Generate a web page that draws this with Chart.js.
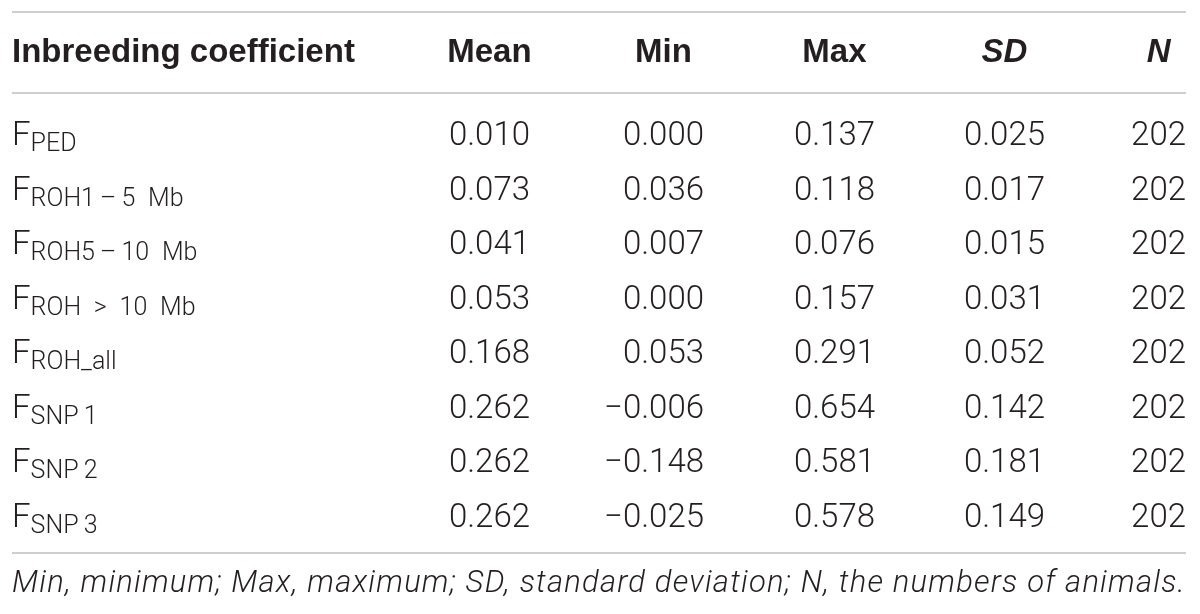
<!DOCTYPE html>
<html>
<head>
<meta charset="utf-8">
<script src="https://cdn.jsdelivr.net/npm/chart.js@4.4.1/dist/chart.umd.min.js"></script>
<style>
  html, body { margin: 0; background: #fff; }
  #wrap { width: 1200px; height: 614px; }
</style>
</head>
<body>
<div id="wrap"><canvas id="tbl"></canvas></div>
<script>
// table data
const rowSubs = ['PED', 'ROH1\u2009\u2013\u20095\u2002Mb', 'ROH5\u2009\u2013\u200910\u2002Mb', 'ROH\u2002>\u200210\u2002Mb',
                 'ROH_all', 'SNP\u20091', 'SNP\u20092', 'SNP\u20093'];
const columns = ['Mean', 'Min', 'Max', 'SD', 'N'];
const meanVals = [0.010, 0.073, 0.041, 0.053, 0.168, 0.262, 0.262, 0.262];
const minVals  = [0.000, 0.036, 0.007, 0.000, 0.053, -0.006, -0.148, -0.025];
const maxVals  = [0.137, 0.118, 0.076, 0.157, 0.291, 0.654, 0.581, 0.578];
const sdVals   = [0.025, 0.017, 0.015, 0.031, 0.052, 0.142, 0.181, 0.149];
const nVals    = [202, 202, 202, 202, 202, 202, 202, 202];
const firstHeader = 'Inbreeding coefficient';
const footnote = 'Min, minimum; Max, maximum; SD, standard deviation; N, the numbers of animals.';

// layout (table units = px inside the chart area)
const TABLE_W = 1174;
const colRight = [518, 692, 863, 1033, 1174];
const italicHead = [false, false, false, true, true];
const HEADER_H = 81, GAP_TOP = 13, GAP_BOTTOM = 11;
const INK = '#231f20', RULE = '#cfcfcf';
const BODY = '300 33px Roboto', SUB = '300 25px Roboto', HEAD = 'bold 33px "Liberation Sans"';
const NOTE = 'italic 300 31px Roboto';

const colValues = [meanVals, minVals, maxVals, sdVals, nVals];
const fmt = (v, c) => c === 4 ? String(v) : (v < 0 ? '\u2212' : '') + Math.abs(v).toFixed(3);

const tablePlugin = {
  id: 'tableText',
  afterDraw(chart) {
    const { ctx, chartArea: a } = chart;
    const yScale = chart.scales.y;
    const ruleTop = a.top - GAP_TOP - HEADER_H;
    const ruleMid = a.top - GAP_TOP;
    const ruleBot = a.bottom + GAP_BOTTOM;
    ctx.save();

    // rules
    ctx.strokeStyle = RULE;
    ctx.lineWidth = 2;
    [ruleTop, ruleMid, ruleBot].forEach(y => {
      ctx.beginPath(); ctx.moveTo(a.left, y); ctx.lineTo(a.right, y); ctx.stroke();
    });

    ctx.fillStyle = INK;
    ctx.textBaseline = 'middle';

    // header
    const headY = (ruleTop + ruleMid) / 2;
    ctx.font = HEAD;
    ctx.textAlign = 'left';
    ctx.fillText(firstHeader, a.left, headY);
    chart.data.datasets.forEach((ds, c) => {
      const pt = chart.getDatasetMeta(c).data[0];
      ctx.font = BODY;
      const w = ctx.measureText(fmt(colValues[c][0], c)).width;
      ctx.font = (italicHead[c] ? 'italic ' : '') + HEAD;
      ctx.textAlign = 'center';
      ctx.fillText(columns[c], pt.x - w / 2, headY);
    });

    // row labels: F with subscript
    ctx.textBaseline = 'alphabetic';
    rowSubs.forEach((sub, r) => {
      const base = yScale.getPixelForValue(r) + 12;
      ctx.textAlign = 'left';
      ctx.font = BODY;
      ctx.fillText('F', a.left, base);
      const fw = ctx.measureText('F').width;
      ctx.font = SUB;
      ctx.fillText(sub, a.left + fw, base + 6);
    });

    // values
    ctx.font = BODY;
    ctx.textAlign = 'right';
    chart.data.datasets.forEach((ds, c) => {
      chart.getDatasetMeta(c).data.forEach((pt, r) => {
        ctx.fillText(fmt(colValues[c][r], c), pt.x, pt.y + 12);
      });
    });

    // footnote, spread to the table width
    ctx.font = NOTE;
    ctx.textAlign = 'left';
    ctx.textBaseline = 'middle';
    const nw = ctx.measureText(footnote).width;
    if ('letterSpacing' in ctx) {
      ctx.letterSpacing = Math.max(0, (a.right - a.left - nw) / footnote.length) + 'px';
    }
    ctx.fillText(footnote, a.left, ruleBot + 31);
    ctx.restore();
  }
};

new Chart(document.getElementById('tbl'), {
  type: 'scatter',
  data: {
    datasets: colValues.map((vals, c) => ({
      label: columns[c],
      data: vals.map((v, r) => ({ x: colRight[c], y: r })),
      pointRadius: 0,
    })),
  },
  options: {
    responsive: true,
    maintainAspectRatio: false,
    animation: false,
    layout: { padding: { left: 12, right: 14, top: 106, bottom: 72 } },
    plugins: { legend: { display: false }, tooltip: { enabled: false } },
    scales: {
      x: { type: 'linear', min: 0, max: TABLE_W, display: false },
      y: { type: 'linear', min: -0.5, max: rowSubs.length - 0.5, reverse: true, display: false },
    },
  },
  plugins: [tablePlugin],
});
</script>
</body>
</html>
